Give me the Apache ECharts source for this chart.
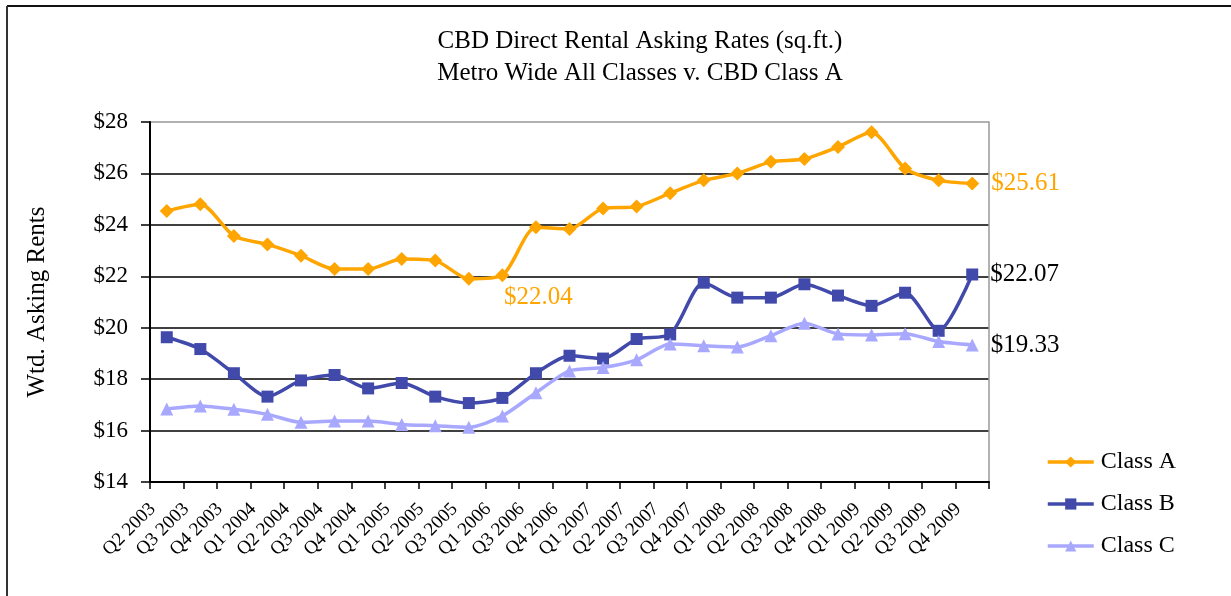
<!DOCTYPE html>
<html>
<head>
<meta charset="utf-8">
<script src="https://cdn.jsdelivr.net/npm/echarts@6/dist/echarts.min.js"></script>
<style>html,body{margin:0;padding:0;background:#fff;}#c{width:1231px;height:596px;}</style>
</head>
<body>
<div id="c"></div>
<script>
var categories = ['Q2 2003','Q3 2003','Q4 2003','Q1 2004','Q2 2004','Q3 2004','Q4 2004','Q1 2005','Q2 2005','Q3 2005','Q1 2006','Q3 2006','Q4 2006','Q1 2007','Q2 2007','Q3 2007','Q4 2007','Q1 2008','Q2 2008','Q3 2008','Q4 2008','Q1 2009','Q2 2009','Q3 2009','Q4 2009'];
var classA = [24.54,24.80,23.57,23.24,22.80,22.28,22.28,22.67,22.61,21.90,22.04,23.91,23.84,24.64,24.71,25.23,25.73,26.00,26.45,26.56,27.03,27.60,26.19,25.73,25.61];
var classB = [19.63,19.17,18.23,17.32,17.95,18.16,17.64,17.85,17.32,17.07,17.27,18.23,18.91,18.80,19.56,19.74,21.75,21.17,21.17,21.69,21.25,20.85,21.36,19.88,22.07];
var classC = [16.84,16.96,16.83,16.63,16.32,16.37,16.37,16.24,16.19,16.13,16.57,17.47,18.32,18.45,18.75,19.37,19.30,19.25,19.69,20.17,19.76,19.72,19.77,19.46,19.33];
var yTicks = [14,16,18,20,22,24,26,28];

var FONT = '"Liberation Serif", "DejaVu Serif", serif';
var cA = '#FFA500', cB = '#4149AA', cC = '#A8A8FF';

function withLabels(vals, labels) {
  return vals.map(function (v, i) {
    if (labels[i]) return { value: v, label: labels[i] };
    return v;
  });
}
function fmt(p) { return '$' + p.value.toFixed(2); }

var lastIdx = categories.length - 1;
var labA = {};
labA[10] = { show: true, position: 'bottom', offset: [36, -2], color: cA, fontSize: 25, fontFamily: FONT, formatter: fmt };
labA[lastIdx] = { show: true, position: 'right', distance: 12, color: cA, fontSize: 25, fontFamily: FONT, formatter: fmt };
var labB = {}; labB[lastIdx] = { show: true, position: 'right', distance: 12, color: '#000', fontSize: 25, fontFamily: FONT, formatter: fmt };
var labC = {}; labC[lastIdx] = { show: true, position: 'right', distance: 12, color: '#000', fontSize: 25, fontFamily: FONT, formatter: fmt };

var chart = echarts.init(document.getElementById('c'));
chart.setOption({
  backgroundColor: '#fff',
  animation: false,
  textStyle: { fontFamily: FONT },
  title: {
    text: 'CBD Direct Rental Asking Rates (sq.ft.)\nMetro Wide All Classes v. CBD Class A',
    left: 635, textAlign: 'center', top: 20,
    textStyle: { fontFamily: FONT, fontSize: 25, fontWeight: 'normal', color: '#000', lineHeight: 32 }
  },
  graphic: [
    { type: 'line', shape: { x1: 7, y1: 6, x2: 1231, y2: 6 }, style: { stroke: '#111', lineWidth: 2 } },
    { type: 'line', shape: { x1: 7, y1: 6, x2: 7, y2: 596 }, style: { stroke: '#333', lineWidth: 2 } }
  ],
  legend: {
    orient: 'vertical', left: 1041, top: 445, itemGap: 18,
    itemWidth: 46, itemHeight: 14,
    lineStyle: { width: 3.5 },
    textStyle: { fontFamily: FONT, fontSize: 24, color: '#000', padding: [0, 0, 0, 2] },
    data: ['Class A', 'Class B', 'Class C']
  },
  grid: { left: 150, right: 242, top: 122, bottom: 114 },
  xAxis: {
    type: 'category', data: categories, boundaryGap: true,
    axisLine: { lineStyle: { color: '#000', width: 2 } },
    axisTick: { show: true, length: 7, lineStyle: { color: '#000', width: 1.5 } },
    axisLabel: { rotate: 45, interval: 0, margin: 10, padding: [0, 20, 0, 0], fontSize: 19, color: '#000', fontFamily: FONT }
  },
  yAxis: [{
    type: 'value', min: 14, max: 28, interval: 2,
    name: 'Wtd. Asking Rents', nameLocation: 'middle', nameGap: 100, nameRotate: 90,
    nameTextStyle: { fontFamily: FONT, fontSize: 25, color: '#000' },
    axisLine: { show: true, lineStyle: { color: '#000', width: 2 } },
    axisTick: { show: true, length: 9, lineStyle: { color: '#000', width: 1.5 } },
    axisLabel: { margin: 22, fontSize: 23, color: '#000', fontFamily: FONT, formatter: function (v) { return '$' + v; } },
    splitLine: { show: true, lineStyle: { color: ['#000', '#000', '#000', '#000', '#000', '#000', '#000', '#999'], width: 1.5 } }
  }, {
    type: 'value', min: 14, max: 28, interval: 2, position: 'right',
    axisLine: { show: true, lineStyle: { color: '#999', width: 1.5 } },
    axisTick: { show: false }, axisLabel: { show: false }, splitLine: { show: false }
  }],
  series: [
    { name: 'Class A', type: 'line', smooth: 0.25, data: withLabels(classA, labA),
      symbol: 'diamond', symbolSize: 14, lineStyle: { color: cA, width: 3.5 }, itemStyle: { color: cA } },
    { name: 'Class B', type: 'line', smooth: 0.25, data: withLabels(classB, labB),
      symbol: 'rect', symbolSize: 12, lineStyle: { color: cB, width: 3.5 }, itemStyle: { color: cB } },
    { name: 'Class C', type: 'line', smooth: 0.25, data: withLabels(classC, labC),
      symbol: 'triangle', symbolSize: 13, lineStyle: { color: cC, width: 3.5 }, itemStyle: { color: cC } }
  ]
});
</script>
</body>
</html>
